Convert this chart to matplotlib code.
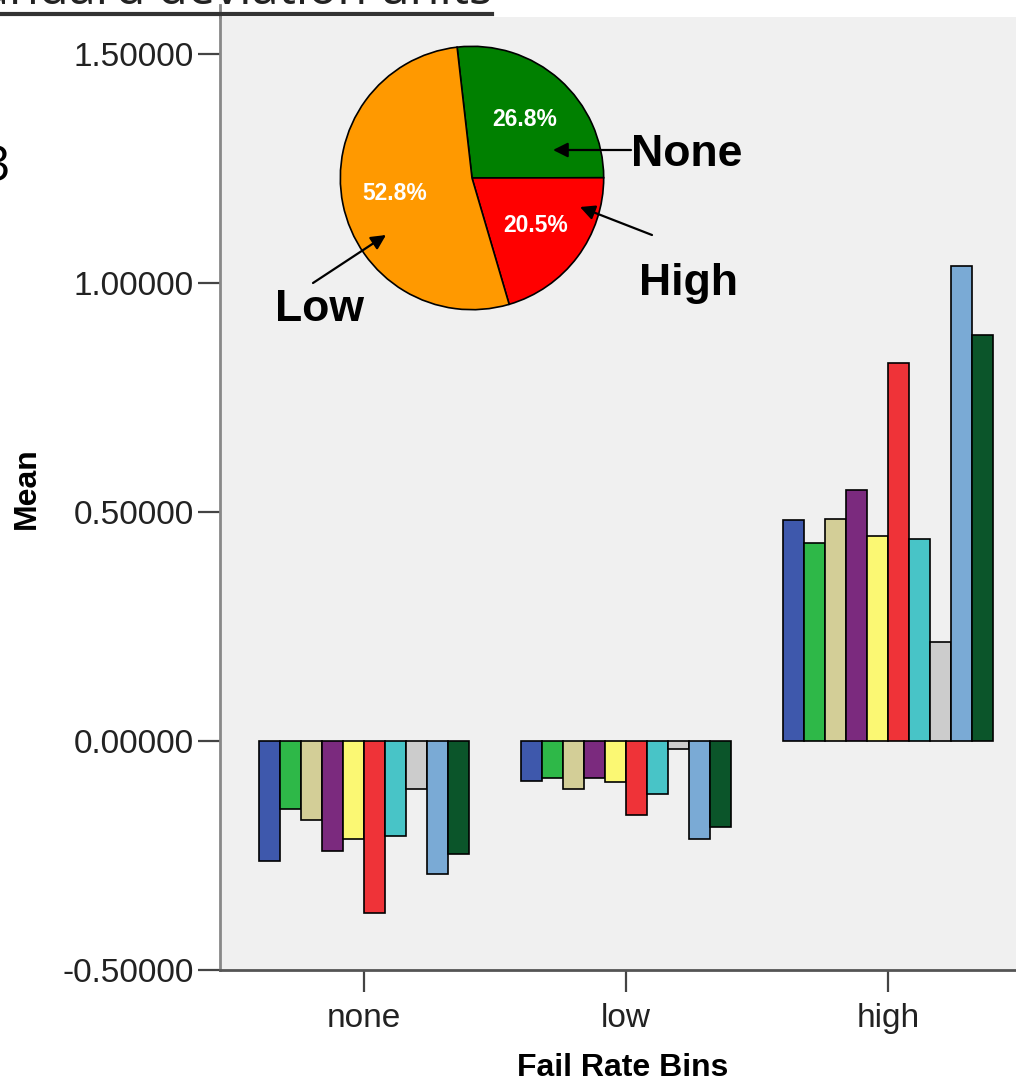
import matplotlib
matplotlib.use("Agg")
import matplotlib.pyplot as plt
import numpy as np

plt.rcParams["font.family"] = ["Liberation Sans", "DejaVu Sans"]

# bar chart data: mean z-scores per fail rate bin, 10 measures each
bins = ["none", "low", "high"]
measure_colors = ["#3e58ac", "#2eb848", "#d3ce97", "#7b2a7e", "#fbf873",
                  "#ef3338", "#48c4c7", "#cccccc", "#7aaad5", "#0b552a"]
means_none = [-0.261, -0.149, -0.172, -0.240, -0.215, -0.376, -0.207, -0.105, -0.290, -0.247]
means_low = [-0.087, -0.080, -0.105, -0.081, -0.090, -0.162, -0.116, -0.017, -0.215, -0.187]
means_high = [0.483, 0.432, 0.484, 0.548, 0.448, 0.826, 0.440, 0.217, 1.037, 0.887]
yticks = [-0.5, 0.0, 0.5, 1.0, 1.5]

# pie inset data
pie_labels = ["None", "High", "Low"]
pie_shares = [26.8, 20.5, 52.8]
pie_colors = ["#008000", "#ff0000", "#ff9900"]

W, H = 1016, 1083
fig = plt.figure(figsize=(W / 100, H / 100), dpi=100)


def fp(x, y):
    # pixel position (top-left origin) -> figure fraction
    return (x / W, 1 - y / H)


ax = fig.add_axes([220 / W, (H - 970) / H, (W - 220) / W, (970 - 17) / H])
ax.set_facecolor("#f0f0f0")

data = np.array([means_none, means_low, means_high])
n = len(measure_colors)
bw = 0.08
x = np.arange(len(bins))
for i in range(n):
    ax.bar(x + (i - (n - 1) / 2) * bw, data[:, i], width=bw,
           color=measure_colors[i], edgecolor="black", linewidth=1.2)

ax.set_xlim(-144 / 262, (W - 364) / 262)
ax.set_ylim(-0.5, (741 - 17) / 458)
ax.set_yticks(yticks)
ax.set_yticklabels([f"{v:.5f}" for v in yticks])
ax.set_xticks(x)
ax.set_xticklabels(bins)
ax.tick_params(axis="both", length=16, width=1.6, color="#444444",
               labelsize=24, labelcolor="#222222")
ax.tick_params(axis="y", pad=3)
ax.tick_params(axis="x", pad=8)
for s in ["top", "right"]:
    ax.spines[s].set_visible(False)
ax.spines["left"].set_color("#888888")
ax.spines["left"].set_linewidth(2)
ax.spines["bottom"].set_color("#555555")
ax.spines["bottom"].set_linewidth(2)
# left axis line runs on up to the cropped heading
fig.add_artist(plt.Line2D([220 / W] * 2, [1 - 5 / H, 1 - 17 / H],
                          color="#888888", linewidth=2))

fig.text(*fp(27, 488), "Mean", rotation=90, ha="center", va="center",
         fontsize=23, fontweight="bold")
fig.text(*fp(623, 1068), "Fail Rate Bins", ha="center", va="center",
         fontsize=23, fontweight="bold")

# cropped heading and stray digit from the source slide
fig.text(*fp(-62, 4), "Standard deviation units", ha="left", va="baseline",
         fontsize=35, family=["Open Sans", "DejaVu Sans"], color="#222222")
fig.add_artist(plt.Line2D([0, 492 / W], [1 - 14 / H] * 2, color="#333333",
                          linewidth=3))
fig.text(*fp(-18, 168), "3", ha="left", va="center", fontsize=36,
         family=["Open Sans", "DejaVu Sans"])

# pie inset
r = 133
pax = fig.add_axes([(472 - r) / W, (H - 178 - r) / H, 2 * r / W, 2 * r / H])
total = sum(pie_shares)
wedges, _, autotexts = pax.pie(
    pie_shares, colors=pie_colors, startangle=96.5, counterclock=False,
    autopct=lambda p: f"{p * total / 100:.1f}%", pctdistance=0.6,
    wedgeprops=dict(edgecolor="black", linewidth=1.2))
for t in autotexts:
    t.set_color("white")
    t.set_fontweight("bold")
    t.set_fontsize(16.5)
pax.set_aspect("equal")
pax.set_xlim(-1.01, 1.01)
pax.set_ylim(-1.01, 1.01)
pax.axis("off")

label_pos = {"None": (687, 155), "High": (688, 283), "Low": (319, 310)}
arrows = {"None": ((631, 150), (553, 150)),
          "High": ((652, 235), (580, 207)),
          "Low": ((313, 283), (386, 235))}
for name in pie_labels:
    fig.text(*fp(*label_pos[name]), name, ha="center", va="center",
             fontsize=32, fontweight="bold")
    tail, head = arrows[name]
    fig.add_artist(matplotlib.patches.FancyArrowPatch(
        fp(*tail), fp(*head), transform=fig.transFigure,
        arrowstyle="-|>", mutation_scale=22, color="black", linewidth=1.6,
        shrinkA=0, shrinkB=0))

fig.savefig("out.png", dpi=100)
